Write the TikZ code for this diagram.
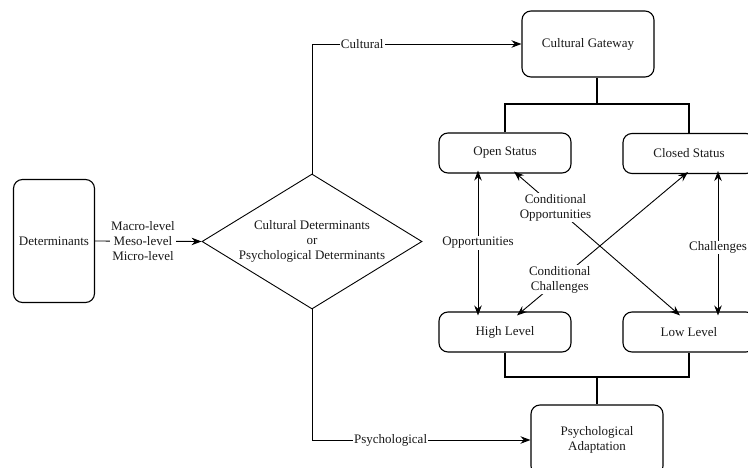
\documentclass[tikz,border=0pt]{standalone}
\usepackage{fontspec}
\setmainfont{Liberation Serif}
\usetikzlibrary{shapes.geometric,arrows.meta,calc}

\tikzset{
  txt/.style={font=\fontsize{13}{15}\selectfont, text=black!90, align=center},
  box/.style={txt, draw, line width=1.1pt, rounded corners=9pt, inner sep=0pt},
  conn/.style={line width=0.9pt, -{Stealth[length=10pt,width=7.5pt]}},
  both/.style={line width=0.9pt, {Stealth[length=10pt,width=7.5pt]}-{Stealth[length=10pt,width=7.5pt]}},
  bar/.style={line width=1.9pt},
  lbl/.style={txt, fill=white, inner sep=1pt},
}

\begin{document}
\begin{tikzpicture}[x=1pt, y=-1pt]
  \useasboundingbox (0,0) rectangle (748,468);

  % boxes
  \node[box, minimum width=81pt, minimum height=123pt] (det) at (54,241) {Determinants};
  \node[draw, line width=0.9pt, diamond, minimum width=220pt, minimum height=135pt, inner sep=0pt] (dia) at (312,241.5) {};
  \node[txt] (diatext) at (dia.center) {Cultural Determinants\\or\\Psychological Determinants};
  \node[box, minimum width=132pt, minimum height=66pt] (cg) at (588,44) {Cultural Gateway};
  \node[box, minimum width=132pt, minimum height=40pt] (os) at (505,153) {Open Status};
  \node[box, minimum width=132pt, minimum height=40pt] (cs) at (689,153.5) {Closed Status};
  \node[box, minimum width=132pt, minimum height=40pt] (hl) at (505,332) {High Level};
  \node[box, minimum width=132pt, minimum height=40pt] (ll) at (689,332) {Low Level};
  \node[box, minimum width=132pt, minimum height=70pt] (pa) at (597,440) {Psychological\\Adaptation};

  % determinants to the decision
  \draw[conn] (det.east) -- node[lbl, pos=0.45] {Macro-level\\Meso-level\\Micro-level} (dia.west);

  % the two branches
  \draw[conn] (dia.north) |- node[lbl, pos=0.62] {Cultural} (cg.west);
  \draw[conn] (dia.south) |- node[lbl, pos=0.68] {Psychological} (pa.west);

  % thick brackets
  \coordinate (topmid) at ($(os.north)!0.5!(cs.north)+(0,-28)$);
  \draw[bar] (os.north) -- ++(0,-28) -| (cs.north);
  \draw[bar] (topmid) -- (topmid |- cg.south);
  \coordinate (botmid) at ($(hl.south)!0.5!(ll.south)+(0,24)$);
  \draw[bar] (hl.south) -- ++(0,24) -| (ll.south);
  \draw[bar] (botmid) -- (botmid |- pa.north);

  % relations between status and level
  \draw[both] ([xshift=-27pt, yshift=3pt]os.south) -- node[lbl, pos=0.5] {Opportunities} ([xshift=-27pt, yshift=-4pt]hl.north);
  \draw[both] ([xshift=29pt, yshift=3pt]cs.south) -- node[lbl, pos=0.53] {Challenges} ([xshift=29pt, yshift=-4pt]ll.north);
  \draw[both] ([xshift=9pt, yshift=2pt]os.south) -- node[lbl, pos=0.25] {Conditional\\Opportunities} ([xshift=-9pt, yshift=-4pt]ll.north);
  \draw[both] ([xshift=12pt, yshift=-4pt]hl.north) -- node[lbl, pos=0.25] {Conditional\\Challenges} ([xshift=-1pt, yshift=2pt]cs.south);
\end{tikzpicture}
\end{document}
